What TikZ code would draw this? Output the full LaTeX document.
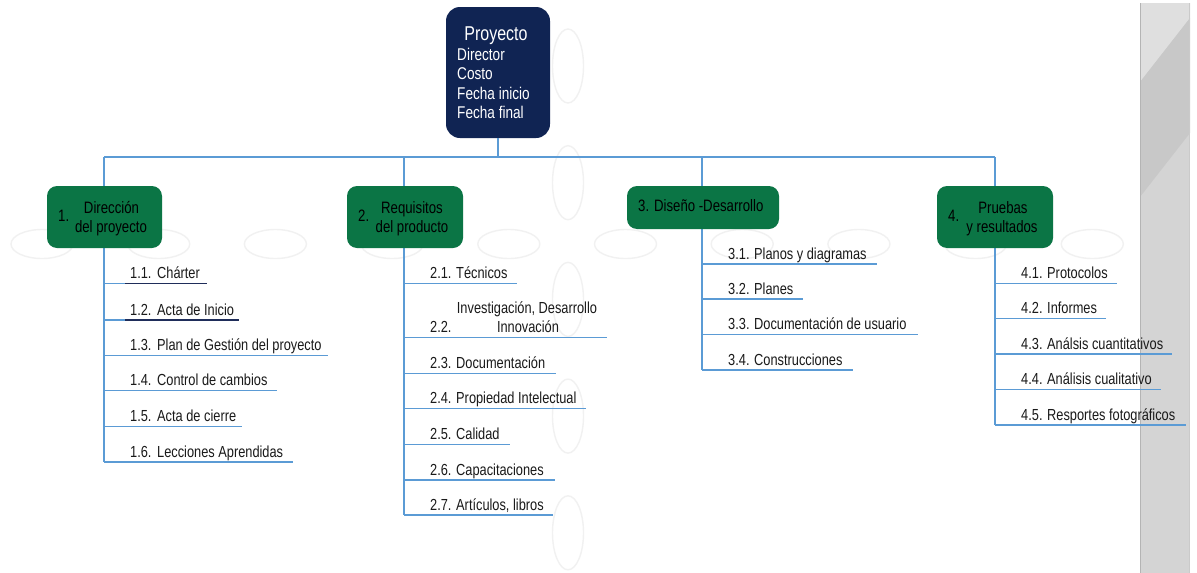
\documentclass[tikz,border=0pt]{standalone}
\usepackage{fontspec}
\setmainfont{Liberation Sans}[FakeStretch=0.8]
\definecolor{navybox}{HTML}{102453}
\definecolor{greenbox}{HTML}{0B7545}
\definecolor{wireblue}{HTML}{5B9BD5}
\definecolor{darkrule}{HTML}{1F2D5A}
\definecolor{ink}{HTML}{1A1A1A}
\definecolor{ghost}{HTML}{F1F1F1}
\definecolor{panelmid}{HTML}{D4D4D4}
\definecolor{panellight}{HTML}{DFDFDF}
\definecolor{paneldark}{HTML}{C8C8C8}
\definecolor{paneledge}{HTML}{B4B4B4}
\begin{document}
\begin{tikzpicture}[x=1pt,y=-1pt,
  wire/.style={draw=wireblue, line width=1.2pt},
  darkwire/.style={draw=darkrule, line width=1.2pt},
  ghostring/.style={draw=ghost, line width=1.4pt},
  topbox/.style={draw=none, fill=navybox, rounded corners=14pt, inner sep=0pt},
  gbox/.style={draw=none, fill=greenbox, rounded corners=10pt, inner sep=0pt, minimum height=62pt},
  toptitle/.style={inner sep=0pt, anchor=base, text=white, font=\fontsize{20}{24}\selectfont},
  topline/.style={inner sep=0pt, anchor=base west, text=white, font=\fontsize{17}{20}\selectfont},
  boxtxt/.style={inner sep=0pt, anchor=base, text=black, font=\fontsize{16.5}{20}\selectfont},
  itemtxt/.style={inner sep=0pt, anchor=base west, text=ink, font=\fontsize{16}{19}\selectfont}
]
\useasboundingbox[fill=white] (0,0) rectangle (1197,573);

% side panel
\fill[panelmid] (1140,3) rectangle (1190,573);
\fill[panellight] (1140,3) -- (1190,3) -- (1190,18) -- (1140,82) -- cycle;
\fill[paneldark] (1140,82) -- (1190,18) -- (1190,133) -- (1140,197) -- cycle;
\draw[paneledge, line width=1pt] (1140.5,3) -- (1140.5,573);
\draw[paneledge!70, line width=1pt] (1189.5,3) -- (1189.5,573);

% faint placeholder rings
\foreach \k in {0,...,9}
  \draw[ghostring] (42+116.7*\k,244) ellipse [x radius=31, y radius=14.5];
\foreach \k in {0,...,4}
  \draw[ghostring] (568,66+116.7*\k) ellipse [x radius=15.5, y radius=37];

% root and bus
\node[topbox, minimum width=104pt, minimum height=131pt] (top) at (498,72.5) {};
\coordinate (bus) at (498,157);
\coordinate (j1) at (104,157);
\coordinate (j2) at (404,157);
\coordinate (j3) at (702,157);
\coordinate (j4) at (995,157);
\draw[wire] (top.south) -- (bus);
\draw[wire] (j1) -- (j4);

% trunks
\coordinate (t1) at (104,462);
\coordinate (t2) at (404,515);
\coordinate (t3) at (702,370);
\coordinate (t4) at (995,425);
\draw[wire] (j1) -- (t1);
\draw[wire] (j2) -- (t2);
\draw[wire] (j3) -- (t3);
\draw[wire] (j4) -- (t4);

% root text
\node[toptitle] (ptitle) at (496,40.5) {Proyecto};
\node[topline] (pdir) at (457,60) {Director};
\node[topline] (pcost) at (457,79.5) {Costo};
\node[topline] (pini) at (457,99.2) {Fecha inicio};
\node[topline] (pfin) at (457,118.8) {Fecha final};

% level-one boxes
\node[gbox, minimum width=115pt] (b1) at (104.5,217) {};
\node[gbox, minimum width=116pt] (b2) at (405,217) {};
\node[gbox, minimum width=152pt, minimum height=43pt] (b3) at (703,207.5) {};
\node[gbox, minimum width=116pt] (b4) at (995,217) {};

\node[boxtxt, anchor=base west] (b1n) at (58,221.5) {1.};
\node[boxtxt] (b1a) at (111.5,213.3) {Dirección};
\node[boxtxt] (b1b) at (111,232.7) {del proyecto};
\node[boxtxt, anchor=base west] (b2n) at (358,221.5) {2.};
\node[boxtxt] (b2a) at (412,213.3) {Requisitos};
\node[boxtxt] (b2b) at (412,232.7) {del producto};
\node[boxtxt, anchor=base west] (b3a) at (638,211.7) {3. Diseño -Desarrollo};
\node[boxtxt, anchor=base west] (b4n) at (948,221.5) {4.};
\node[boxtxt] (b4a) at (1003,213.3) {Pruebas};
\node[boxtxt] (b4b) at (1002,232.7) {y resultados};

% work packages: index / line y / line end / number / label
\foreach \k/\y/\e/\num/\lab in {
  1/283.3/207/1.1./{Chárter},
  2/320/239/1.2./{Acta de Inicio},
  3/355.3/328/1.3./{Plan de Gestión del proyecto},
  4/390.7/277/1.4./{Control de cambios},
  5/426.3/242/1.5./{Acta de cierre},
  6/462/293/1.6./{Lecciones Aprendidas}} {
  \coordinate (s1-\k) at (104,\y);
  \coordinate (e1-\k) at (\e,\y);
  \draw[wire] (s1-\k) -- (e1-\k);
  \node[itemtxt] (n1-\k) at (130,\y-5) {\num};
  \node[itemtxt] (l1-\k) at (157,\y-5) {\lab};
}
\coordinate (u1-1) at (125,283.3);
\coordinate (u1-2) at (125,320);
\draw[darkwire] (u1-1) -- (e1-1);
\draw[darkwire] (u1-2) -- (e1-2);

\foreach \k/\y/\e/\num/\lab in {
  1/283.3/517/2.1./{Técnicos},
  3/373.3/556/2.3./{Documentación},
  4/408.7/586/2.4./{Propiedad Intelectual},
  5/444.7/510/2.5./{Calidad},
  6/480/555/2.6./{Capacitaciones},
  7/515/553/2.7./{Artículos, libros}} {
  \coordinate (s2-\k) at (404,\y);
  \coordinate (e2-\k) at (\e,\y);
  \draw[wire] (s2-\k) -- (e2-\k);
  \node[itemtxt] (n2-\k) at (430,\y-5) {\num};
  \node[itemtxt] (l2-\k) at (456,\y-5) {\lab};
}
\coordinate (s2-2) at (404,337.3);
\coordinate (e2-2) at (607,337.3);
\draw[wire] (s2-2) -- (e2-2);
\node[itemtxt] (n2-2) at (430,332.3) {2.2.};
\node[itemtxt, anchor=base] (l2-2a) at (527,313.5) {Investigación, Desarrollo};
\node[itemtxt, anchor=base] (l2-2b) at (528,332.3) {Innovación};

\foreach \k/\y/\e/\num/\lab in {
  1/264/877/3.1./{Planos y diagramas},
  2/299/803/3.2./{Planes},
  3/334.3/918/3.3./{Documentación de usuario},
  4/370/853/3.4./{Construcciones}} {
  \coordinate (s3-\k) at (702,\y);
  \coordinate (e3-\k) at (\e,\y);
  \draw[wire] (s3-\k) -- (e3-\k);
  \node[itemtxt] (n3-\k) at (728,\y-5) {\num};
  \node[itemtxt] (l3-\k) at (754,\y-5) {\lab};
}

\foreach \k/\y/\e/\num/\lab in {
  1/283.3/1117/4.1./{Protocolos},
  2/318.7/1106/4.2./{Informes},
  3/354/1172/4.3./{Análsis cuantitativos},
  4/389.3/1161/4.4./{Análisis cualitativo},
  5/425/1186/4.5./{Resportes fotográficos}} {
  \coordinate (s4-\k) at (995,\y);
  \coordinate (e4-\k) at (\e,\y);
  \draw[wire] (s4-\k) -- (e4-\k);
  \node[itemtxt] (n4-\k) at (1021,\y-5) {\num};
  \node[itemtxt] (l4-\k) at (1047,\y-5) {\lab};
}
\end{tikzpicture}
\end{document}
